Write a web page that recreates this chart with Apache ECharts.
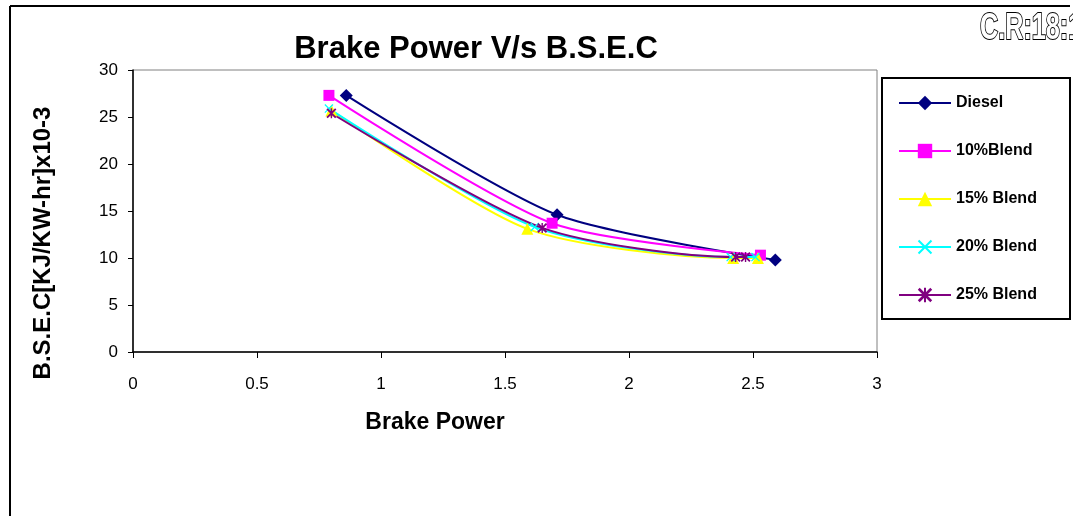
<!DOCTYPE html>
<html>
<head>
<meta charset="utf-8">
<script src="https://cdn.jsdelivr.net/npm/echarts@6/dist/echarts.min.js"></script>
<style>
  html, body { margin: 0; padding: 0; background: #fff; }
  #chart { width: 1073px; height: 516px; }
</style>
</head>
<body>
<div id="chart"></div>
<script>
var dom = document.getElementById("chart");
var myChart = echarts.init(dom);

// brake power (x) and B.S.E.C (y)
var dieselX = [0.86, 1.71, 2.59];
var dieselY = [27.3, 14.6, 9.8];
var blend10X = [0.79, 1.69, 2.53];
var blend10Y = [27.3, 13.7, 10.3];
var blend15X = [0.80, 1.59, 2.42, 2.52];
var blend15Y = [25.7, 13.1, 10.0, 10.0];
var blend20X = [0.79, 1.62, 2.41, 2.51];
var blend20Y = [25.9, 13.3, 10.1, 10.1];
var blend25X = [0.80, 1.65, 2.43, 2.47];
var blend25Y = [25.4, 13.2, 10.1, 10.1];

var names = ['Diesel', '10%Blend', '15% Blend', '20% Blend', '25% Blend'];
var colors = ['#000080', '#FF00FF', '#FFFF00', '#00FFFF', '#800080'];

var font = '"Liberation Sans", Arial, sans-serif';

function pairs(xs, ys) {
    return xs.map(function (x, i) { return [x, ys[i]]; });
}

var crossPath = 'path://M0,1L1,0L10,9L9,10Z M9,0L10,1L1,10L0,9Z';
var starPath = 'path://M0,1.3L1.3,0L10,8.7L8.7,10Z M8.7,0L10,1.3L1.3,10L0,8.7Z M4.3,0L5.7,0L5.7,10L4.3,10Z';

var seriesData = [
    pairs(dieselX, dieselY),
    pairs(blend10X, blend10Y),
    pairs(blend15X, blend15Y),
    pairs(blend20X, blend20Y),
    pairs(blend25X, blend25Y)
];
var symbols = ['diamond', 'rect', 'triangle', crossPath, starPath];
var sizes = [13, 11, 12, 9, 10];

var series = names.map(function (n, i) {
    return {
        name: n,
        type: 'line',
        data: seriesData[i],
        smooth: 0.25,
        symbol: symbols[i],
        symbolSize: sizes[i],
        showAllSymbol: true,
        lineStyle: { color: colors[i], width: 2 },
        itemStyle: { color: colors[i] },
        emphasis: { disabled: true }
    };
});

option = {
    animation: false,
    grid: {
        left: 133, right: 196, top: 70, bottom: 164,
        show: true,
        borderColor: '#808080',
        borderWidth: 1
    },
    xAxis: {
        type: 'value',
        min: 0, max: 3, interval: 0.5,
        splitLine: { show: false },
        axisLine: { onZero: false, lineStyle: { color: '#000', width: 1.5 } },
        axisTick: { show: true, length: 6, lineStyle: { color: '#000' } },
        axisLabel: { color: '#000', fontSize: 17, fontFamily: font, margin: 24 }
    },
    yAxis: {
        type: 'value',
        min: 0, max: 30, interval: 5,
        splitLine: { show: false },
        axisLine: { show: true, lineStyle: { color: '#000', width: 1.5 } },
        axisTick: { show: true, length: 5, lineStyle: { color: '#000' } },
        axisLabel: { color: '#000', fontSize: 17, fontFamily: font, margin: 15 }
    },
    legend: {
        orient: 'vertical',
        left: 893,
        top: 90,
        itemWidth: 52,
        itemHeight: 18,
        itemGap: 32,
        selectedMode: false,
        textStyle: { color: '#000', fontSize: 16, fontWeight: 'bold', fontFamily: font },
        data: names
    },
    graphic: [
        { type: 'line', shape: { x1: 10, y1: 6, x2: 1070, y2: 6 }, style: { stroke: '#000', lineWidth: 2 } },
        { type: 'line', shape: { x1: 10, y1: 6, x2: 10, y2: 516 }, style: { stroke: '#000', lineWidth: 2 } },
        { type: 'rect', shape: { x: 882, y: 78, width: 188, height: 241 }, style: { fill: 'none', stroke: '#000', lineWidth: 2 }, z: -1 },
        {
            type: 'text', x: 476, y: 49,
            style: { text: 'Brake Power V/s B.S.E.C', fontSize: 31, fontWeight: 'bold', fontFamily: font, fill: '#000', align: 'center', verticalAlign: 'middle' }
        },
        {
            type: 'text', x: 43, y: 243, rotation: Math.PI / 2,
            style: { text: 'B.S.E.C[KJ/KW-hr]x10-3', fontSize: 24, fontWeight: 'bold', fontFamily: font, fill: '#000', align: 'center', verticalAlign: 'middle' }
        },
        {
            type: 'text', x: 435, y: 423,
            style: { text: 'Brake Power', fontSize: 23, fontWeight: 'bold', fontFamily: font, fill: '#000', align: 'center', verticalAlign: 'middle' }
        },
        {
            type: 'text', x: 980, y: 29, scaleX: 0.7,
            style: { text: 'C.R:18:1', fontSize: 36, fontWeight: 'bold', fontFamily: font, fill: '#fff', stroke: '#000', lineWidth: 2, align: 'left', verticalAlign: 'middle' }
        }
    ],
    series: series
};

if (option && typeof option === "object") {
    myChart.setOption(option, true);
}
</script>
</body>
</html>
